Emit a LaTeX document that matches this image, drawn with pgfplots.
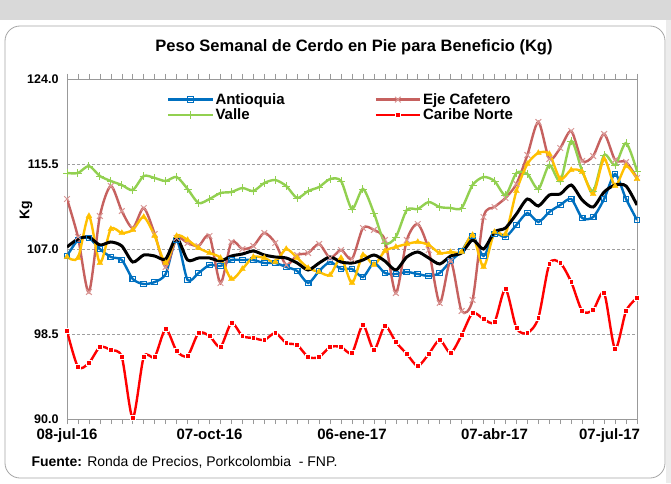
\documentclass[border=0pt]{standalone}
\usepackage{fontspec}
\setmainfont{Liberation Sans}
\usepackage{pgfplots}
\usepackage{pgfplotstable}
\pgfplotsset{compat=1.18}

\definecolor{cAnt}{RGB}{0,112,192}
\definecolor{cEje}{RGB}{192,80,77}
\definecolor{cVal}{RGB}{146,208,80}
\definecolor{cCar}{RGB}{255,0,0}
\definecolor{cYel}{RGB}{255,192,0}
\definecolor{bgGray}{RGB}{217,217,217}

% weekly data, week 0 = 08-jul-16
\pgfplotstableread{
w  ant   eje   val   car   yel   blk
0  106.3 112.0 114.6 98.8  106.2 107.2
1  107.9 108.2 114.6 95.2  106.1 108.0
2  108.1 102.7 115.3 95.6  110.3 108.2
3  107.0 110.3 114.3 97.2  105.6 107.4
4  106.2 113.3 113.8 96.9  109.0 107.7
5  105.9 110.8 113.4 96.2  108.6 107.3
6  104.0 109.1 112.9 90.1  108.9 105.7
7  103.5 111.1 114.3 96.2  110.2 106.4
8  103.7 108.5 114.1 96.2  108.3 106.3
9  104.5 105.2 113.8 99.0  105.6 106.0
10 107.9 108.1 114.2 96.8  108.3 108.1
11 103.9 107.6 113.0 96.3  107.9 105.9
12 104.6 107.3 111.6 98.6  107.1 106.1
13 105.4 108.3 112.0 98.3  106.6 106.1
14 105.3 103.6 112.6 97.2  106.1 105.8
15 105.9 107.7 112.7 99.6  104.0 106.3
16 105.9 107.0 113.1 98.3  105.0 106.5
17 105.9 107.3 112.8 98.1  106.2 106.8
18 105.6 108.6 113.6 97.9  106.1 106.4
19 105.6 107.6 113.9 98.6  105.7 106.2
20 105.2 105.4 113.3 97.6  107.0 106.1
21 104.8 106.4 112.1 97.4  106.1 105.6
22 103.6 106.6 112.8 96.2  105.1 104.9
23 104.8 107.5 113.2 96.2  104.7 105.6
24 105.7 106.1 114.0 97.2  104.4 106.2
25 105.0 106.9 113.8 97.2  106.1 105.7
26 105.0 106.0 111.0 96.6  103.6 105.6
27 104.2 109.1 113.0 99.4  106.4 105.9
28 105.6 108.9 110.6 96.9  105.4 106.4
29 104.6 107.9 107.6 99.3  106.8 105.8
30 104.5 102.6 108.2 97.7  107.2 104.9
31 104.7 107.9 110.9 96.5  107.5 106.2
32 104.5 109.5 111.0 95.3  107.7 106.7
33 104.3 106.9 111.7 96.5  107.4 106.1
34 104.6 101.6 111.2 97.9  106.6 105.5
35 105.8 105.8 111.1 96.6  106.7 106.3
36 106.8 100.8 111.1 98.4  106.7 106.6
37 108.3 101.9 113.4 100.6 108.4 107.9
38 106.3 110.2 114.2 100.0 105.2 107.0
39 108.5 111.2 113.8 99.7  108.7 108.7
40 108.2 112.1 112.4 103.0 108.5 109.1
41 109.4 113.5 114.6 99.1  112.8 110.5
42 110.6 116.4 114.5 98.6  115.5 112.0
43 109.7 119.7 113.0 100.1 116.6 111.3
44 110.7 116.0 115.4 105.5 116.5 112.4
45 111.4 117.1 113.8 105.6 114.0 112.5
46 112.0 118.8 117.8 103.7 114.9 113.4
47 110.1 115.8 114.8 100.8 114.7 111.9
48 110.2 116.3 112.8 100.9 112.5 111.2
49 112.0 118.5 116.4 102.6 116.0 112.7
50 114.5 115.9 115.4 97.0  113.3 113.4
51 112.0 115.7 117.6 100.8 115.3 113.3
52 109.9 114.1 114.8 102.1 114.0 111.4
}\datatable

\begin{document}
\begin{tikzpicture}[x=1pt,y=1pt]
\useasboundingbox (0,0) rectangle (671,483);
\fill[white] (0,0) rectangle (671,483);
\fill[bgGray] (0,463) rectangle (671,483);
\fill[gray!15] (666,0) rectangle (671,463);
\filldraw[fill=white, draw=gray!70, line width=0.8pt, rounded corners=15pt] (5,5) rectangle (665,457);

\node[font=\bfseries\fontsize{16.5}{16.5}\selectfont] at (354,436) {Peso Semanal de Cerdo en Pie para Beneficio (Kg)};
\node[font=\bfseries\fontsize{14}{14}\selectfont, rotate=90] at (26,273) {Kg};
\node[anchor=west, font=\fontsize{14}{14}\selectfont] at (28,21) {\textbf{Fuente:} Ronda de Precios, Porkcolombia \ - FNP.};

\begin{axis}[
  at={(67pt,64pt)}, anchor=south west,
  scale only axis, width=570pt, height=340pt,
  xmin=0, xmax=52, ymin=90, ymax=124,
  axis line style={gray!80, line width=0.8pt},
  xtick={0,13,26,39,52},
  xticklabels={08-jul-16,07-oct-16,06-ene-17,07-abr-17,\makebox[0pt][r]{07-jul-17\hspace*{-3pt}}},
  minor xtick={0,1,...,52},
  tick align=outside,
  major tick length=5pt, minor tick length=5pt,
  xtick style={gray!80, line width=0.6pt},
  ytick={90,98.5,107,115.5,124},
  ytick style={draw=none},
  yticklabel style={/pgf/number format/fixed, /pgf/number format/precision=1,
    /pgf/number format/fixed zerofill, /pgf/number format/assume math mode=true,
    font=\bfseries\fontsize{12.5}{12.5}\selectfont},
  xticklabel style={yshift=-1pt, font=\bfseries\fontsize{15}{15}\selectfont},
  ymajorgrids,
  grid style={gray!75, dash pattern=on 3pt off 2pt, line width=0.6pt},
  legend columns=2, legend cell align=left,
  legend style={at={(0.17,0.97)}, anchor=north west, draw=none, fill=none,
    font=\bfseries\fontsize{15}{15}\selectfont, row sep=-1pt,
    /tikz/every even column/.style={column sep=88pt}},
  legend image code/.code={\draw[mark repeat=2, mark phase=2]
    plot coordinates {(0pt,0pt) (22pt,0pt) (44pt,0pt)};},
  every axis plot/.append style={line width=2.4pt, smooth, tension=0.45},
]
\addplot[cAnt, mark=square, mark size=2.8pt,
  mark options={fill=white, draw=cAnt, line width=1.1pt}] table[x=w, y=ant] {\datatable};
\addlegendentry{Antioquia}
\addplot[cEje!90, mark=x, mark size=4pt,
  mark options={draw=cEje!60, line width=1pt}] table[x=w, y=eje] {\datatable};
\addlegendentry{Eje Cafetero}
\addplot[cVal, mark=+, mark size=4pt,
  mark options={draw=cVal, line width=1pt}] table[x=w, y=val] {\datatable};
\addlegendentry{Valle}
\addplot[cCar, mark=square*, mark size=2.4pt,
  mark options={fill=cCar, draw=white, line width=0.6pt}] table[x=w, y=car] {\datatable};
\addlegendentry{Caribe Norte}
\addplot[cYel, mark=triangle*, mark size=3.4pt,
  mark options={fill=cYel, draw=cYel, line width=0.3pt}, forget plot] table[x=w, y=yel] {\datatable};
\addplot[black, line width=3pt, forget plot] table[x=w, y=blk] {\datatable};
\end{axis}
\end{tikzpicture}
\end{document}
